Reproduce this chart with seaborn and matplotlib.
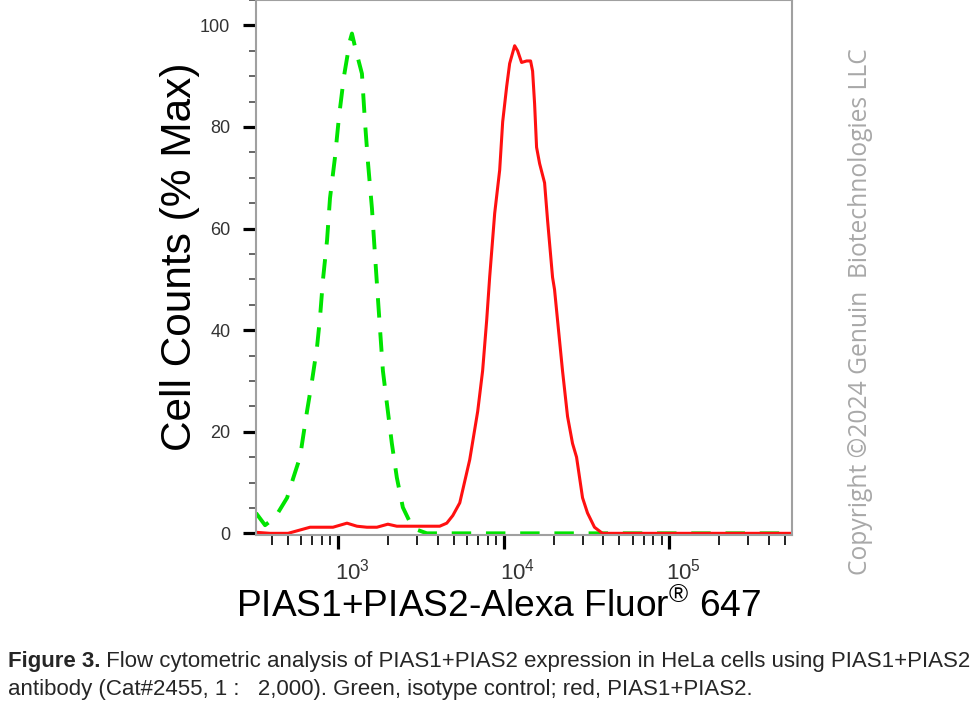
import matplotlib
matplotlib.use("Agg")
import matplotlib.pyplot as plt
import matplotlib.transforms as mtransforms
from matplotlib import font_manager
from matplotlib.ticker import LogLocator, MultipleLocator, NullFormatter, FixedLocator
import numpy as np
import seaborn as sns

# Isotype control (green, dashed)
green_x = [320, 363, 417, 493, 536, 590, 650, 697, 747, 779, 812, 859, 895, 959,
           1014, 1087, 1181, 1214, 1284, 1395, 1455, 1517, 1603, 1671, 1719, 1791,
           1867, 1973, 2114, 2265, 2464, 2832, 3437, 550000]
green_y = [4.0, 1.6, 3.1, 7.0, 10.8, 15.0, 24.0, 30.0, 36.6, 42.5, 50.0, 57.7, 66.0, 74.0,
           82.0, 90.0, 97.0, 98.4, 95.0, 90.5, 81.0, 73.0, 64.0, 55.0, 49.0, 40.5,
           32.0, 25.6, 17.7, 11.0, 5.1, 1.0, 0.0, 0.0]

# PIAS1+PIAS2 (red, solid)
red_x = [320, 389, 500, 678, 933, 1133, 1301, 1495, 1718, 2000, 2265, 4111, 4535,
         4932, 5433, 6240, 6970, 7464, 7900, 8235, 8827, 9460, 9863, 10430, 10870,
         11650, 12140, 12830, 13760, 14540, 14950, 15370, 15800, 16480, 17660, 18410,
         19730, 20280, 21140, 22660, 24300, 26040, 27540, 28710, 29930, 32070, 35330,
         39460, 550000]
red_y = [0.2, 0.0, 0.0, 1.2, 1.2, 2.0, 1.4, 1.2, 1.2, 1.8, 1.4, 1.4, 2.0,
         3.5, 6.0, 14.5, 24.0, 32.0, 42.0, 50.5, 63.0, 71.5, 81.0, 88.0, 92.5,
         96.0, 95.0, 92.7, 93.0, 93.0, 91.0, 84.6, 76.0, 72.8, 69.0, 61.6,
         50.4, 48.0, 42.0, 32.0, 23.0, 17.7, 15.0, 11.0, 7.0, 4.0, 1.2,
         0.0, 0.0]

x_ticks = [1e3, 1e4, 1e5]
x_tick_labels = ["$\\mathdefault{10^{3}}$", "$\\mathdefault{10^{4}}$", "$\\mathdefault{10^{5}}$"]
y_ticks = [0, 20, 40, 60, 80, 100]

x_label = "PIAS1+PIAS2-Alexa Fluor$^{\\mathrm{®}}$ 647"
y_label = "Cell Counts (% Max)"
caption_bold = "Figure 3."
caption_1 = " Flow cytometric analysis of PIAS1+PIAS2 expression in HeLa cells using PIAS1+PIAS2"
caption_2 = "antibody (Cat#2455, 1 :   2,000). Green, isotype control; red, PIAS1+PIAS2."
copyright_text = "Copyright \u00a92024 Genuin  Biotechnologies LLC"

sns.set_style("white")
installed = {f.name for f in font_manager.fontManager.ttflist}
has_narrow = "Liberation Sans Narrow" in installed
plt.rcParams["font.family"] = ["Liberation Sans", "DejaVu Sans"]
plt.rcParams["mathtext.fontset"] = "custom"
plt.rcParams["mathtext.rm"] = "Liberation Sans"
plt.rcParams["mathtext.it"] = "Liberation Sans"

fig = plt.figure(figsize=(9.8, 7.18), dpi=100)
ax = fig.add_axes([256 / 980, 1 - 535 / 718, 536 / 980, 535 / 718])
ax.set_xscale("log")

sns.lineplot(x=green_x, y=green_y, ax=ax, color="#00e400", lw=2.8,
             linestyle=(0, (5, 3.8)), errorbar=None)
sns.lineplot(x=red_x, y=red_y, ax=ax, color="#ff1010", lw=2.2, errorbar=None)

ax.set_xlim(320, 5.5e5)
ax.set_ylim(-0.33, 105)

# axes frame
for sp in ax.spines.values():
    sp.set_color("#a0a0a0")
    sp.set_linewidth(1.5)
    sp.set_visible(True)

# y ticks
ax.yaxis.set_major_locator(FixedLocator(y_ticks))
ax.yaxis.set_minor_locator(MultipleLocator(5))
ax.tick_params(axis="y", which="major", left=True, length=9.5, width=2.3,
               color="black", pad=9, labelsize=13, labelcolor="#333333")
ax.tick_params(axis="y", which="minor", left=True, length=5, width=1.4, color="#666666")

# x ticks
ax.xaxis.set_minor_locator(LogLocator(base=10, subs=np.arange(2, 10)))
ax.xaxis.set_minor_formatter(NullFormatter())
ax.tick_params(axis="x", which="major", bottom=True, length=10, width=2.3,
               color="black", pad=7, labelsize=16, labelcolor="#333333")
ax.tick_params(axis="x", which="minor", bottom=True, length=7, width=1.4, color="#222222")
ax.set_xticks(x_ticks)
ax.set_xticklabels(x_tick_labels)
shift = mtransforms.ScaledTranslation(14 / 100, 0, fig.dpi_scale_trans)
for lab in ax.get_xticklabels():
    lab.set_transform(lab.get_transform() + shift)

ax.set_xlabel(x_label, fontsize=26.7, color="black")
ax.xaxis.set_label_coords(0.453, -0.135)
ax.xaxis.label.set_va("center")
ax.set_ylabel(y_label, fontsize=30.5, color="black")
ax.yaxis.set_label_coords(-0.142, 0.521)
ax.yaxis.label.set_va("center")

# caption under the chart
cap_family = ["Liberation Sans Narrow", "DejaVu Sans"] if has_narrow else ["Liberation Sans", "DejaVu Sans"]
cap_size = 16.5 if has_narrow else 16.0
t_bold = fig.text(8 / 980, 1 - 661 / 718, caption_bold, fontsize=cap_size, fontweight="bold",
                  family=cap_family, va="center", ha="left")
plt.annotate(caption_1, xy=(1, 0.5), xycoords=t_bold, va="center", ha="left",
             fontsize=cap_size, family=cap_family, annotation_clip=False)
fig.text(8 / 980, 1 - 690 / 718, caption_2, fontsize=cap_size, family=cap_family,
         va="center", ha="left")

# watermark
fig.text(860 / 980, 1 - 312 / 718, copyright_text, rotation=90, fontsize=17.7,
         family=["Open Sans", "DejaVu Sans"], color="#a8a8a8", ha="center", va="center")

fig.savefig("out.png", dpi=100)
